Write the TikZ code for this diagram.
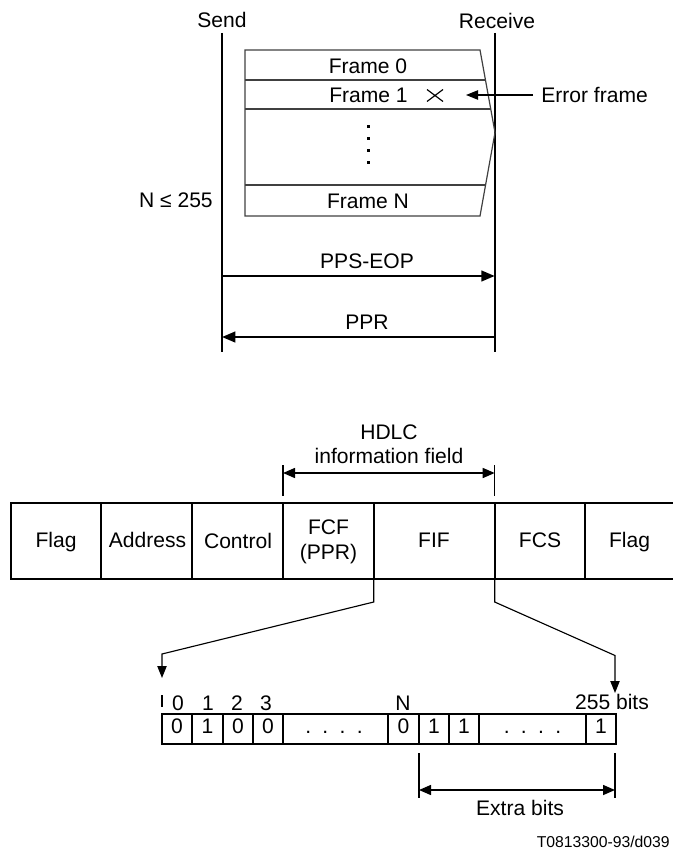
\documentclass[tikz,border=0pt]{standalone}
\usepackage{fontspec}
\setmainfont{Liberation Sans}
\usetikzlibrary{arrows.meta}
\begin{document}
\begin{tikzpicture}[x=0.75pt,y=-0.75pt,
  txt/.style={font=\fontsize{15.8}{18}\selectfont, inner sep=0pt, text height=11.3pt, text depth=0pt},
  idtxt/.style={font=\fontsize{11.8}{14}\selectfont, inner sep=0pt, text height=8.5pt, text depth=0pt},
  life/.style={line width=1.7pt},
  framel/.style={line width=0.9pt, draw=black!75},
  msg/.style={line width=1.6pt, -{Triangle[length=10pt,width=8pt]}},
  thinl/.style={line width=0.85pt},
  tipend/.style={-{Triangle[length=9pt,width=7pt]}},
  twotip/.style={{Triangle[length=9pt,width=7.5pt]}-{Triangle[length=9pt,width=7.5pt]}},
  cellline/.style={line width=1.3pt},
  bitline/.style={line width=1.7pt}
]
\useasboundingbox (0,0) rectangle (672,852);

% ---------- upper part: sequence ----------
\node[txt] (send) at (222,20) {Send};
\node[txt] (recv) at (497,21) {Receive};
\coordinate (s0) at (222,33);   \coordinate (s1) at (222,352);
\coordinate (r0) at (494.7,33); \coordinate (r1) at (494.7,352);
\draw[life] (s0) -- (s1);
\draw[life] (r0) -- (r1);

% frame block
\draw[framel] (245,50) -- (480,50) -- (495,132.5) -- (480,216) -- (245,216) -- cycle;
\draw[framel] (245,80) -- (485.5,80);
\draw[framel] (245,109) -- (490.7,109);
\draw[framel] (245,185) -- (485.6,185);

\node[txt] (f0) at (368,65.5) {Frame 0};
\node[txt] (f1) at (368.5,95) {Frame 1};
\node[txt] (fn) at (368,200.5) {Frame N};
\draw[thinl] (427,89.5) -- (443,101.5) (427,101.5) -- (443,89.5);
\foreach \yy in {127,139,151,163} \fill (366.5,\yy-1.5) rectangle (369.5,\yy+1.5);

\node[txt, anchor=west] (err) at (541,94.5) {Error frame};
\coordinate (errs) at (533,95);
\coordinate (erre) at (466,95);
\draw[thinl, tipend] (errs) -- (erre);

\node[txt, anchor=east] (nmax) at (213,200) {N ≤ 255};

% messages
\coordinate (m1a) at (222,276); \coordinate (m1b) at (494.7,276);
\coordinate (m2a) at (494.7,337); \coordinate (m2b) at (222,337);
\draw[msg] (m1a) -- (m1b);
\draw[msg] (m2a) -- (m2b);
\node[txt] (pps) at (367,261) {PPS-EOP};
\node[txt] (ppr) at (367,322) {PPR};

% ---------- middle: HDLC frame ----------
\node[txt] (hdlc) at (389,432) {HDLC};
\node[txt] (info) at (389,456) {information field};
\coordinate (ia) at (283,473); \coordinate (ib) at (494.7,473);
\draw[thinl] (283,465) -- (283,496);
\draw[thinl] (494.7,465) -- (494.7,496);
\draw[line width=1.1pt, twotip] (ia) -- (ib);

\draw[cellline] (11,503) rectangle (690,579);
\foreach \xx in {101,192,283,373.7,494.7,585} \draw[cellline] (\xx,503) -- (\xx,579);
\node[txt] (flag1) at (56,539.5) {Flag};
\node[txt] (addr) at (147.5,540) {Address};
\node[txt] (ctrl) at (238,540.5) {Control};
\node[txt] (fcf) at (328.5,527) {FCF};
\node[txt] (fcfp) at (328.5,552) {(PPR)};
\node[txt] (fif) at (434,540) {FIF};
\node[txt] (fcs) at (540,540) {FCS};
\node[txt] (flag2) at (629.5,539.5) {Flag};

% connectors to bit field
\coordinate (c1) at (373.7,579); \coordinate (c1t) at (162,678);
\coordinate (c2) at (494.7,579); \coordinate (c2t) at (615,693);
\draw[thinl, tipend] (c1) -- (373.7,602) -- (162,654) -- (c1t);
\draw[thinl, tipend] (c2) -- (494.7,602) -- (615,655.5) -- (c2t);

% ---------- bottom: bit field ----------
\draw[thinl] (162,695) -- (162,707);
\node[txt] (l0) at (178,703) {0};
\node[txt] (l1) at (208,703) {1};
\node[txt] (l2) at (237,703) {2};
\node[txt] (l3) at (266,703) {3};
\node[txt] (ln) at (403,703) {N};
\node[txt] (l255) at (612,702) {255 bits};

\draw[bitline] (162,714) rectangle (616,744);
\foreach \xx in {192,223,253,283,388,419,449,479,586} \draw[bitline] (\xx,714) -- (\xx,744);
\node[txt] (b0) at (177,726) {0};
\node[txt] (b1) at (207.5,726) {1};
\node[txt] (b2) at (238,726) {0};
\node[txt] (b3) at (268,726) {0};
\node[txt] (bd1) at (334,726) {.\hspace{8.5pt}.\hspace{8.5pt}.\hspace{8.5pt}.};
\node[txt] (bn) at (403.5,726) {0};
\node[txt] (bn1) at (434,726) {1};
\node[txt] (bn2) at (464,726) {1};
\node[txt] (bd2) at (532.5,726) {.\hspace{8.5pt}.\hspace{8.5pt}.\hspace{8.5pt}.};
\node[txt] (blast) at (601,726) {1};

% extra bits
\draw[thinl] (419,753) -- (419,798);
\draw[thinl] (615,753) -- (615,798);
\coordinate (xa) at (419,790); \coordinate (xb) at (615,790);
\draw[line width=1.1pt, twotip] (xa) -- (xb);
\node[txt] (extra) at (520,808) {Extra bits};

\node[idtxt, anchor=east] (id) at (670,842) {T0813300-93/d039};
\end{tikzpicture}
\end{document}
